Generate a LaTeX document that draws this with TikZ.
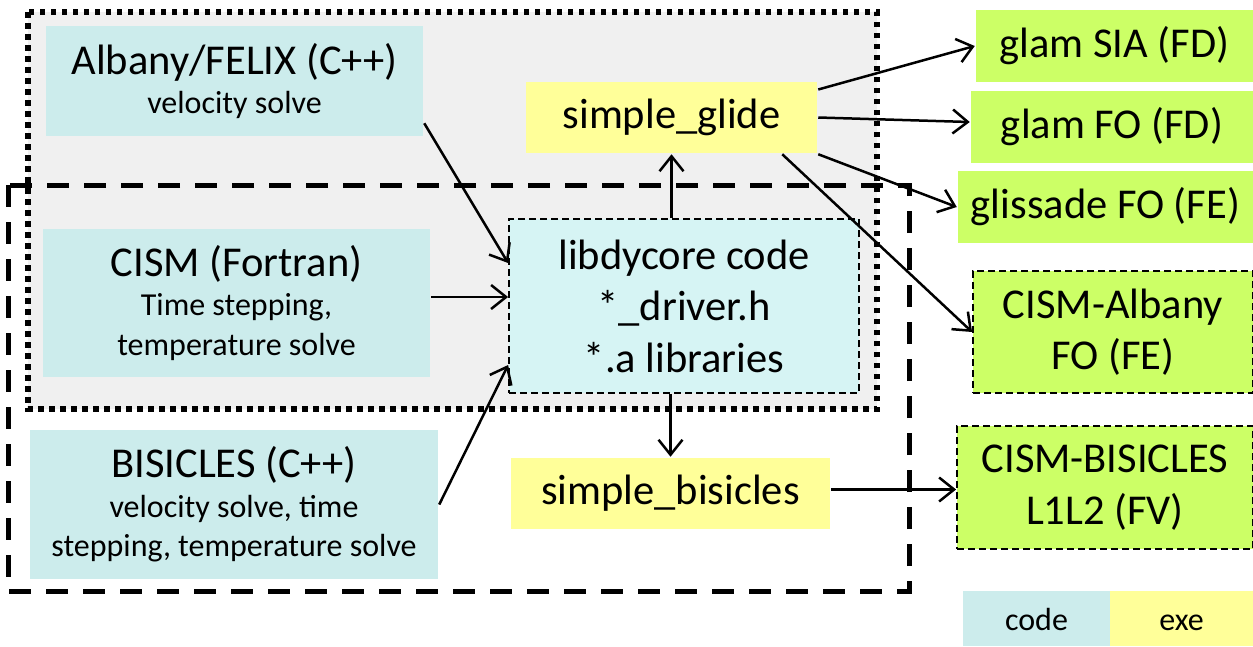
\documentclass[tikz,border=0pt]{standalone}
\usepackage{fontspec}
\setmainfont{Carlito}
\usetikzlibrary{arrows.meta}
\definecolor{codecol}{RGB}{204,236,236}
\definecolor{libcol}{RGB}{214,244,244}
\definecolor{execol}{RGB}{255,255,153}
\definecolor{runcol}{RGB}{204,255,102}
\definecolor{backcol}{RGB}{240,240,240}
\newcommand{\bigtxt}{\fontsize{42.5}{51.5}\selectfont}
\newcommand{\smalltxt}{\fontsize{32}{39.5}\selectfont}

\begin{document}
\begin{tikzpicture}[x=1pt,y=-1pt,>={Straight Barb[length=15pt,width=24pt]},line width=2.5pt]
	\tikzstyle{every node}=[inner sep=0pt,align=center,font=\bigtxt]
	\tikzstyle{code}=[fill=codecol,font=\smalltxt]
	\tikzstyle{exe}=[fill=execol]
	\tikzstyle{run}=[fill=runcol]
	\tikzstyle{dashedge}=[draw=black,line width=1.8pt,dash pattern=on 7pt off 4pt]
	\tikzstyle{legend}=[font=\smalltxt,text height=26pt,text depth=3pt,minimum height=55pt]
	\useasboundingbox (0,0) rectangle (1253,646);
	
	% groups
	\draw[fill=backcol,line width=5.5pt,dash pattern=on 5.5pt off 5.5pt] (28,12) rectangle (877,409);
	\draw[line width=5pt,dash pattern=on 22pt off 15pt] (8,185) rectangle (909,591);
	
	\node[code,minimum width=377pt,minimum height=110pt] (albany) at (234.5,81) {{\bigtxt Albany/FELIX (C++)}\\velocity solve};
	\node[code,minimum width=387pt,minimum height=148pt] (cism) at (236.5,303) {{\bigtxt CISM (Fortran)}\\Time stepping,\\temperature solve};
	\node[code,minimum width=408pt,minimum height=149pt] (bisicles) at (234,504.5) {{\bigtxt BISICLES (C++)}\\velocity solve, time\\stepping, temperature solve};
	\node[fill=libcol,dashedge,minimum width=350pt,minimum height=174pt] (lib) at (684,306) {libdycore code\\*\_driver.h\\*.a libraries};
	
	\node[exe,minimum width=291pt,minimum height=71pt] (glide) at (671.5,117.5) {simple\_glide};
	\node[exe,minimum width=319pt,minimum height=71pt] (sbis) at (670.5,493.5) {simple\_bisicles};
	
	\node[run,minimum width=277pt,minimum height=72pt] (sia) at (1114.5,46) {glam SIA (FD)};
	\node[run,minimum width=282pt,minimum height=72pt] (glamfo) at (1112,127) {glam FO (FD)};
	\node[run,minimum width=295pt,minimum height=72pt] (glissade) at (1105.5,207) {glissade FO (FE)};
	\node[run,dashedge,minimum width=280pt,minimum height=122pt] (cismalb) at (1113,332) {CISM-Albany\\FO (FE)};
	\node[run,dashedge,minimum width=296pt,minimum height=123pt] (cismbis) at (1105,487.5) {CISM-BISICLES\\L1L2 (FV)};
	
	% legend
	\node[code,legend,minimum width=147pt] (legcode) at (1036.5,618.5) {code};
	\node[exe,legend,minimum width=143pt] (legexe) at (1181.5,618.5) {exe};
	
	\path[->] ([yshift=14pt]albany.south east) edge ([yshift=43pt]lib.west)
	([yshift=6pt]cism.east) edge ([yshift=6pt]cism.east -| lib.west)
	(bisicles.east) edge ([yshift=-59pt]lib.west)
	(lib.north -| glide.south) edge (glide.south)
	(lib.south -| sbis.north) edge (sbis.north)
	([yshift=28pt]glide.east) edge (sia.west)
	(glide.east) edge ([yshift=5pt]glamfo.west)
	(glide.south east) edge (glissade.west)
	([xshift=-36pt]glide.south east) edge (cismalb.west)
	([yshift=4pt]sbis.east) edge ([yshift=4pt]sbis.east -| cismbis.west);
\end{tikzpicture}
\end{document}
